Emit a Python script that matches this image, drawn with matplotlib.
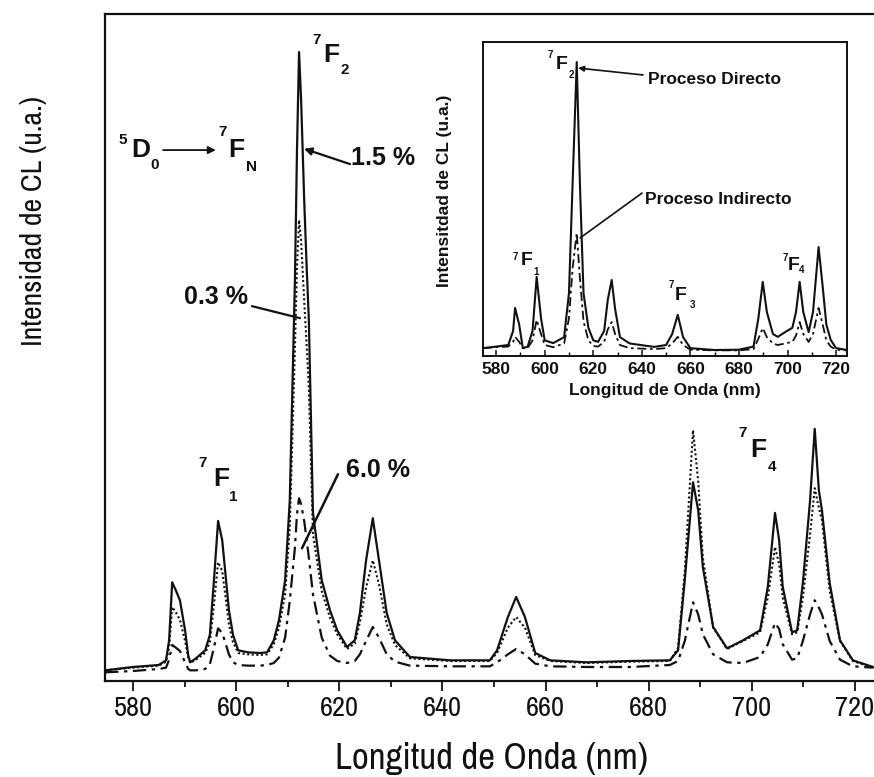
import matplotlib
matplotlib.use('Agg')
import matplotlib.pyplot as plt
from matplotlib.ticker import MultipleLocator

plt.rcParams['font.family'] = ['Liberation Sans', 'DejaVu Sans']
NARROW = ['Archivo Narrow', 'Liberation Sans']

# ---------------- main spectra (CL intensity, a.u.) ----------------
wavelength = [574.6, 580.0, 585.0, 586.4, 587.0, 587.6, 588.3, 589.1, 590.1, 590.7,
              591.1, 592.2, 594.0, 594.9, 595.7, 596.5, 597.3, 597.8, 598.6, 599.4,
              600.4, 602.3, 604.6, 606.0, 607.3, 608.3, 609.5, 610.4, 611.4, 611.8,
              612.2, 612.6, 613.2, 613.7, 614.1, 614.9, 616.6, 618.2, 619.6, 621.5,
              623.0, 624.0, 625.2, 626.5, 627.7, 629.2, 630.8, 633.7, 641.5, 649.2,
              650.6, 652.7, 654.3, 656.0, 658.0, 660.9, 668.0, 676.4, 684.1, 685.7,
              687.0, 688.6, 689.6, 690.5, 692.5, 695.2, 698.3, 701.6, 703.1, 704.5,
              705.3, 706.0, 707.8, 708.8, 709.9, 711.3, 712.2, 713.0, 713.6, 715.1,
              717.1, 719.6, 723.5]

cl_15 = [1.6, 2.1, 2.4, 3.1, 6.1, 14.8, 13.6, 12.1, 7.6, 3.9,
         2.8, 3.4, 4.6, 6.9, 15.1, 24.0, 21.1, 17.1, 10.6, 6.9,
         4.6, 4.3, 4.2, 4.3, 6.1, 9.1, 15.1, 27.1, 60.1, 79.6,
         94.3, 87.1, 72.1, 61.6, 54.1, 25.2, 15.1, 10.6, 7.6, 5.1,
         6.1, 10.2, 18.1, 24.4, 18.1, 10.2, 6.1, 3.6, 3.1, 3.1,
         4.6, 9.6, 12.6, 9.6, 4.2, 3.1, 2.8, 3.0, 3.1, 4.6,
         15.1, 29.8, 25.6, 17.1, 8.1, 4.9, 6.1, 7.6, 14.1, 25.2,
         21.1, 14.1, 7.3, 7.6, 14.7, 27.1, 37.8, 28.6, 25.6, 14.7,
         6.1, 3.1, 2.1]

cl_03 = [1.6, 2.0, 2.3, 2.9, 5.0, 11.1, 10.3, 9.2, 6.0, 3.5,
         2.7, 3.2, 4.2, 5.8, 11.5, 17.8, 16.5, 13.5, 8.5, 5.8,
         4.2, 4.0, 3.9, 4.0, 5.5, 8.0, 13.0, 23.0, 50.0, 62.0,
         69.1, 66.0, 57.0, 50.0, 44.0, 22.0, 13.5, 9.5, 7.0, 4.8,
         5.6, 8.8, 14.0, 18.1, 14.5, 8.5, 5.4, 3.4, 3.0, 3.0,
         4.2, 8.0, 9.6, 8.0, 3.9, 3.0, 2.7, 2.9, 3.0, 5.0,
         16.5, 37.6, 30.0, 18.5, 8.0, 4.8, 6.0, 7.3, 12.5, 20.1,
         17.5, 12.5, 7.0, 7.3, 12.5, 22.0, 28.9, 26.0, 24.1, 13.5,
         6.0, 3.0, 2.0]

cl_60 = [1.3, 1.5, 1.8, 2.0, 3.2, 5.4, 5.0, 4.5, 2.8, 1.8,
         1.6, 1.6, 1.8, 2.5, 5.0, 7.9, 7.2, 6.0, 4.0, 2.8,
         2.4, 2.3, 2.3, 2.4, 2.7, 3.5, 6.5, 12.0, 20.0, 25.0,
         27.4, 26.5, 24.0, 21.0, 18.5, 13.0, 6.5, 3.8, 3.0, 2.7,
         3.0, 4.0, 6.0, 8.1, 6.5, 4.0, 2.9, 2.3, 2.2, 2.2,
         2.8, 4.0, 4.8, 4.0, 2.6, 2.2, 2.1, 2.1, 2.4, 3.0,
         6.0, 11.8, 10.0, 7.0, 4.0, 2.8, 2.7, 3.6, 5.5, 8.7,
         7.8, 5.5, 3.2, 3.4, 6.0, 10.0, 12.1, 11.0, 10.0, 6.0,
         3.2, 2.2, 2.0]

# ---------------- inset spectra ----------------
inset_wavelength = [574.6, 580.0, 585.0, 587.0, 587.8, 589.5, 591.0, 593.0, 595.0, 596.7,
                    598.5, 600.0, 603.5, 608.0, 610.0, 611.5, 613.2, 614.5, 616.0, 618.0,
                    620.0, 622.0, 624.5, 626.0, 627.6, 629.0, 631.0, 635.0, 645.0, 650.0,
                    652.5, 654.8, 657.0, 660.0, 670.0, 680.0, 686.0, 688.0, 689.8, 691.5,
                    694.0, 696.0, 699.0, 702.0, 703.5, 705.0, 706.5, 708.7, 710.5, 712.8,
                    714.5, 716.0, 717.8, 720.0, 724.5]
inset_direct = [2.5, 3.0, 3.5, 8.0, 15.3, 10.0, 2.5, 3.0, 8.0, 25.2,
                12.0, 5.0, 4.1, 6.0, 20.0, 55.0, 93.6, 55.0, 20.0, 9.0,
                5.0, 4.5, 8.0, 18.0, 24.2, 15.0, 6.0, 4.0, 2.9, 3.5,
                7.0, 13.1, 6.0, 2.5, 1.9, 2.0, 3.0, 12.0, 23.6, 14.0,
                7.0, 6.1, 7.6, 9.0, 14.0, 23.6, 14.0, 7.6, 14.0, 34.7,
                22.0, 10.0, 5.1, 2.5, 1.9]
inset_indirect = [2.5, 2.8, 3.0, 4.5, 6.1, 4.5, 2.5, 2.5, 5.0, 11.5,
                  7.0, 3.5, 2.8, 4.0, 12.0, 28.0, 39.2, 25.0, 11.0, 5.0,
                  3.2, 3.0, 4.5, 8.5, 10.8, 7.0, 3.5, 2.5, 2.2, 2.5,
                  4.0, 6.1, 3.5, 2.0, 1.8, 1.8, 2.2, 5.5, 8.9, 6.0,
                  4.0, 3.5, 4.0, 4.5, 6.5, 10.8, 7.0, 4.5, 7.0, 15.3,
                  10.0, 5.0, 3.0, 2.0, 1.8]

major_ticks = [580, 600, 620, 640, 660, 680, 700, 720]

INK = '#111111'

fig = plt.figure(figsize=(8.74, 7.77), dpi=100)
W, H = 874.0, 777.0

# main axes (right spine falls just outside the picture, as in the scan)
ax = fig.add_axes([105 / W, (H - 681) / H, 773 / W, 667 / H])
ax.plot(wavelength, cl_15, color=INK, lw=1.6, ls='-')
ax.plot(wavelength, cl_03, color=INK, lw=1.5, ls=(0, (1, 1.2)))
ax.plot(wavelength, cl_60, color=INK, lw=1.6, ls=(0, (6, 2.5, 1.5, 2.5)))
ax.set_xlim(574.57, 724.47)
ax.set_ylim(0, 100)
ax.set_xticks(major_ticks)
ax.set_xticklabels([str(t) for t in major_ticks], fontsize=20.5, family=NARROW)
ax.xaxis.set_minor_locator(MultipleLocator(10))
ax.set_yticks([])
ax.tick_params(axis='x', which='major', direction='out', length=7, width=1.3,
               pad=4, colors=INK)
ax.tick_params(axis='x', which='minor', direction='out', length=4.5, width=1.2)
for s in ax.spines.values():
    s.set_linewidth(1.6)
    s.set_color(INK)
ax.set_xlabel('Longitud de Onda (nm)', fontsize=26.5, color=INK, family=NARROW)
ax.xaxis.set_label_coords(0.5, -0.091)
ax.set_ylabel('Intensidad de CL (u.a.)', fontsize=21.5, color=INK, family=NARROW)
ax.yaxis.set_label_coords(-0.075, 0.69)

bold = dict(fontweight='bold', color=INK, ha='center', va='center')

# 5D0 -> 7FN
ax.text(578.06, 81.1, '5', fontsize=11, **bold)
ax.text(581.55, 79.6, 'D', fontsize=19, **bold)
ax.text(584.27, 77.4, '0', fontsize=11, **bold)
ax.annotate('', xy=(596.6, 79.6), xytext=(585.3, 79.6),
            arrowprops=dict(arrowstyle='-|>', lw=1.3, color=INK, mutation_scale=11))
ax.text(597.45, 82.3, '7', fontsize=11, **bold)
ax.text(599.97, 79.6, 'F', fontsize=19, **bold)
ax.text(603.07, 77.1, 'N', fontsize=11, **bold)

# 7F2
ax.text(615.68, 96.1, '7', fontsize=11, **bold)
ax.text(618.39, 93.9, 'F', fontsize=19, **bold)
ax.text(621.11, 91.6, '2', fontsize=11, **bold)
# 7F1
ax.text(593.57, 32.7, '7', fontsize=11, **bold)
ax.text(597.06, 30.3, 'F', fontsize=19, **bold)
ax.text(599.39, 27.6, '1', fontsize=11, **bold)
# 7F4
ax.text(698.29, 37.2, '7', fontsize=11, **bold)
ax.text(701.2, 34.6, 'F', fontsize=19, **bold)
ax.text(703.91, 32.1, '4', fontsize=11, **bold)

# concentration labels
ax.text(628.48, 78.4, '1.5 %', fontsize=18, **bold)
ax.annotate('', xy=(613.16, 79.8), xytext=(622.08, 77.5),
            arrowprops=dict(arrowstyle='-|>', lw=1.6, color=INK, mutation_scale=11,
                            shrinkA=0, shrinkB=0))
ax.text(596.09, 57.6, '0.3 %', fontsize=18, **bold)
ax.annotate('', xy=(612.38, 54.4), xytext=(603.07, 56.2),
            arrowprops=dict(arrowstyle='-', lw=1.6, color=INK, shrinkA=0, shrinkB=0))
ax.text(627.51, 31.6, '6.0 %', fontsize=18, **bold)
ax.annotate('', xy=(612.77, 19.9), xytext=(619.75, 31.0),
            arrowprops=dict(arrowstyle='-', lw=1.8, color=INK, shrinkA=0, shrinkB=0))

# ---------------- inset ----------------
ins = fig.add_axes([483 / W, (H - 356) / H, 364 / W, 314 / H])
ins.plot(inset_wavelength, inset_direct, color=INK, lw=1.5, ls='-')
ins.plot(inset_wavelength, inset_indirect, color=INK, lw=1.3, ls=(0, (5, 2, 1.5, 2)))
ins.set_xlim(574.6, 724.5)
ins.set_ylim(0, 100)
ins.set_xticks(major_ticks)
ins.xaxis.set_minor_locator(MultipleLocator(10))
ins.set_yticks([])
ins.tick_params(axis='x', which='major', direction='in', length=4, width=1.1,
                labelsize=12.5, pad=4, colors=INK)
ins.tick_params(axis='x', which='minor', direction='in', length=3, width=1.0)
for lab in ins.get_xticklabels():
    lab.set_fontweight('bold')
for s in ins.spines.values():
    s.set_linewidth(1.4)
    s.set_color(INK)
ins.set_xlabel('Longitud de Onda (nm)', fontsize=12.5, fontweight='bold', color=INK)
ins.xaxis.set_label_coords(0.5, -0.085)
ins.set_ylabel('Intensitdad de CL (u.a.)', fontsize=12.5, fontweight='bold', color=INK)
ins.yaxis.set_label_coords(-0.085, 0.525)

ins.text(602.2, 95.9, '7', fontsize=7, **bold)
ins.text(606.8, 92.7, 'F', fontsize=14, **bold)
ins.text(610.9, 89.5, '2', fontsize=7, **bold)
ins.text(642.6, 87.9, 'Proceso Directo', fontsize=12.5, fontweight='bold', color=INK,
         ha='left', va='center')
ins.annotate('', xy=(613.8, 91.7), xytext=(640.5, 89.5),
             arrowprops=dict(arrowstyle='-|>', lw=1.2, color=INK, mutation_scale=8,
                             shrinkA=0, shrinkB=0))
ins.text(641.4, 50.0, 'Proceso Indirecto', fontsize=12.5, fontweight='bold', color=INK,
         ha='left', va='center')
ins.annotate('', xy=(614.6, 37.6), xytext=(640.1, 51.9),
             arrowprops=dict(arrowstyle='-', lw=1.2, color=INK, shrinkA=0, shrinkB=0))

ins.text(587.8, 31.5, '7', fontsize=7, **bold)
ins.text(592.4, 30.3, 'F', fontsize=14, **bold)
ins.text(596.5, 26.8, '1', fontsize=7, **bold)
ins.text(652.1, 22.6, '7', fontsize=7, **bold)
ins.text(656.2, 19.4, 'F', fontsize=14, **bold)
ins.text(660.7, 16.2, '3', fontsize=7, **bold)
ins.text(699.0, 31.2, '7', fontsize=7, **bold)
ins.text(702.7, 28.7, 'F', fontsize=14, **bold)
ins.text(706.0, 27.4, '4', fontsize=7, **bold)

fig.savefig('out.png', dpi=100)
